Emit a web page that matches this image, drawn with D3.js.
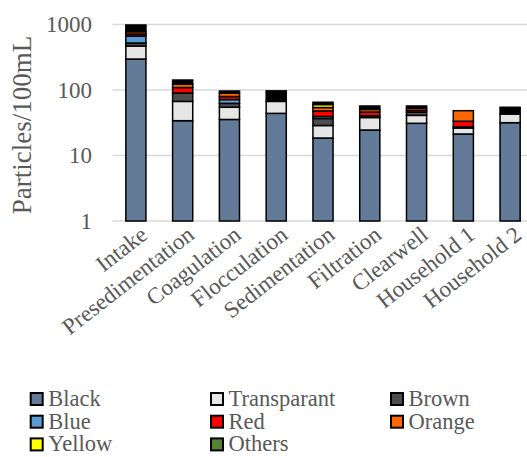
<!DOCTYPE html>
<html>
<head>
<meta charset="utf-8">
<script src="https://cdn.jsdelivr.net/npm/d3@7"></script>
<style>
  html, body { margin: 0; padding: 0; background: #fff; }
  svg { display: block; }
</style>
</head>
<body>
<svg id="chart" width="527" height="457"></svg>
<script>
// Treatment stages along the x axis
const categories = ["Intake", "Presedimentation", "Coagulation", "Flocculation",
  "Sedimentation", "Filtration", "Clearwell", "Household 1", "Household 2"];

// Particle counts per 100 mL, by particle colour
const black       = [297, 34, 35.5, 44, 18.5, 24.5, 31, 21.3, 31.7];
const transparant = [173, 33, 19, 23, 10.2, 13.5, 10, 5, 11.3];
const brown       = [52, 23, 8, 0, 8, 2.5, 5, 1, 0];
const blue        = [145, 0, 9, 0, 2.7, 0, 0, 0, 0];
const red         = [49, 19, 8, 0, 8.4, 5.5, 3, 6, 0];
const orange      = [60, 14, 10, 0, 6.2, 4.5, 4, 15, 0];
const yellow      = [0, 0, 0, 0, 6, 0, 0, 0, 0];
const others      = [0, 0, 0, 0, 0, 0, 0, 0, 0];
// dark top segment of each stack (not listed in the legend)
const unlabeled   = [207, 19, 7, 30, 5, 6.5, 4, 0, 11.5];

const yTicks = [1, 10, 100, 1000];

const FONT = "'Liberation Serif', 'Times New Roman', Times, serif";
const TEXT_COLOR = "#595959";

const series = [
  { name: "Black", values: black, color: "#637a99", legend: true },
  { name: "Transparant", values: transparant, color: "#e6e6e6", legend: true },
  { name: "Brown", values: brown, color: "#4d4d4d", legend: true },
  { name: "Blue", values: blue, color: "#5b9bd5", legend: true },
  { name: "Red", values: red, color: "#ff0000", legend: true },
  { name: "Orange", values: orange, color: "#ff6600", legend: true },
  { name: "Yellow", values: yellow, color: "#ffff00", legend: true },
  { name: "Others", values: others, color: "#548235", legend: true },
  { name: "Unlabeled", values: unlabeled, color: "#000000", legend: false }
];

const svg = d3.select("#chart")
  .attr("font-family", FONT);

const x = d3.scaleBand().domain(categories).range([112.5, 533.5])
  .paddingInner(0.57).paddingOuter(0.285);
const y = d3.scaleLog().domain([1, 1000]).range([221, 24.5]);

// gridlines
svg.append("g").selectAll("line").data(yTicks).join("line")
  .attr("x1", 112.5).attr("x2", 533.5)
  .attr("y1", d => y(d)).attr("y2", d => y(d))
  .attr("stroke", "#d9d9d9").attr("stroke-width", 1.5);

// y axis labels
const yAxis = d3.axisLeft(y).tickValues(yTicks).tickFormat(d3.format("d")).tickSize(0).tickPadding(0);
const gy = svg.append("g").attr("transform", "translate(92,0)").call(yAxis);
gy.attr("font-family", FONT);
gy.select(".domain").remove();
gy.selectAll("text")
  .attr("fill", TEXT_COLOR)
  .style("font-size", "23px")
  .style("font-family", FONT);

// stacked data
const rows = categories.map((c, i) => {
  const r = { cat: c };
  series.forEach(s => r[s.name] = s.values[i]);
  return r;
});
const stacked = d3.stack().keys(series.map(s => s.name))(rows);

const bars = svg.append("g");
stacked.forEach((layer, li) => {
  bars.append("g").attr("fill", series[li].color)
    .selectAll("rect")
    .data(layer.filter(d => d[1] - d[0] > 0))
    .join("rect")
    .attr("x", d => x(d.data.cat))
    .attr("width", x.bandwidth())
    .attr("y", d => y(d[1]))
    .attr("height", d => y(Math.max(1, d[0])) - y(d[1]))
    .attr("stroke", "#000").attr("stroke-width", 1.5);
});

// category labels
const xAxis = d3.axisBottom(x).tickSize(0).tickPadding(0);
const gx = svg.append("g").call(xAxis);
gx.attr("font-family", FONT);
gx.select(".domain").remove();
gx.selectAll(".tick").attr("transform", d => `translate(${x(d) + x.bandwidth() / 2 + 8},231)`);
gx.selectAll("text")
  .attr("y", 0).attr("dy", "0.35em").attr("x", 0)
  .attr("text-anchor", "end")
  .attr("transform", "rotate(-38)")
  .attr("fill", TEXT_COLOR)
  .style("font-size", "23px")
  .style("font-family", FONT);

// y axis title
svg.append("text")
  .attr("transform", "translate(31,125) rotate(-90)")
  .attr("text-anchor", "middle")
  .attr("fill", TEXT_COLOR)
  .style("font-family", FONT)
  .style("font-size", "27px")
  .text("Particles/100mL");

// legend
const legendItems = series.filter(s => s.legend);
const colX = [30.7, 211, 391];
const legend = svg.append("g");
legendItems.forEach((s, i) => {
  const cx = colX[i % 3];
  const base = 406 + Math.floor(i / 3) * 22.7;
  legend.append("rect")
    .attr("x", cx).attr("y", base - 13)
    .attr("width", 12).attr("height", 12)
    .attr("fill", s.color).attr("stroke", "#000").attr("stroke-width", 2);
  legend.append("text")
    .attr("x", cx + 17.5).attr("y", base)
    .attr("fill", TEXT_COLOR)
    .style("font-family", FONT)
    .style("font-size", "22.5px")
    .text(s.name);
});
</script>
</body>
</html>
